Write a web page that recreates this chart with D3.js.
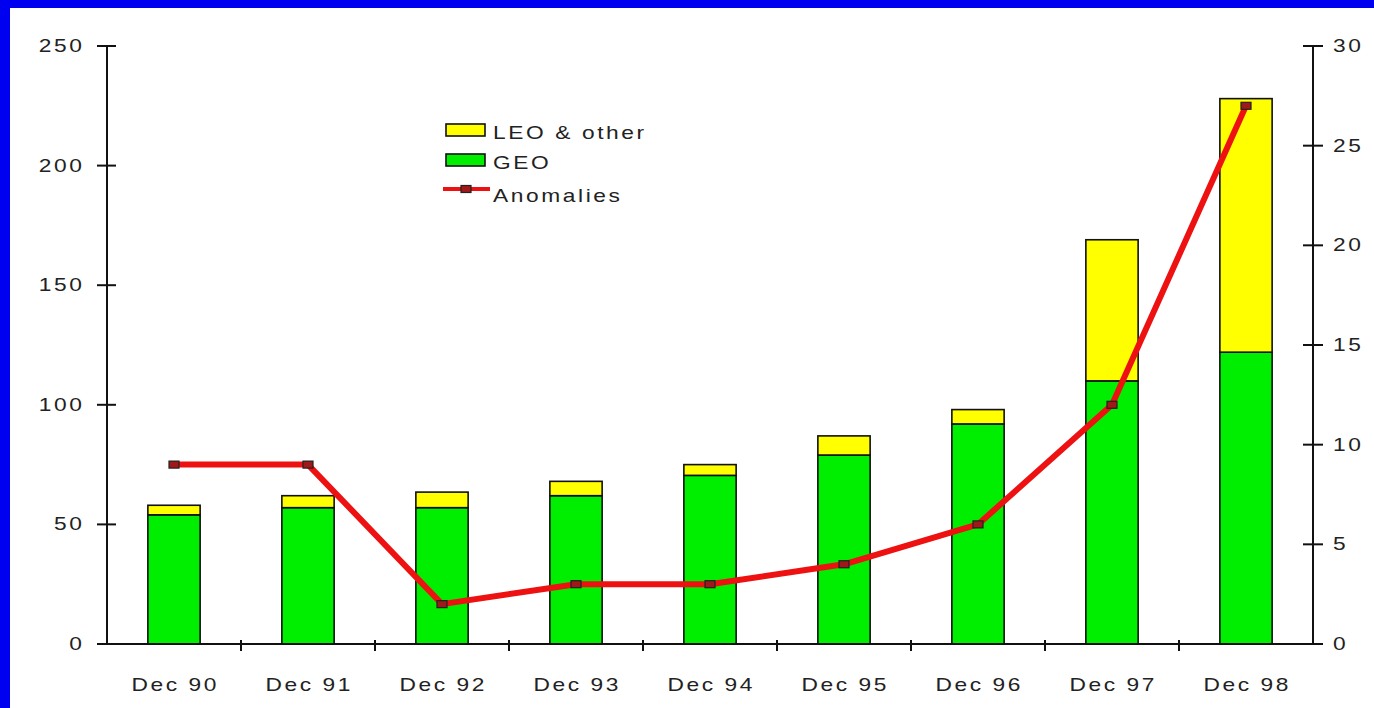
<!DOCTYPE html>
<html>
<head>
<meta charset="utf-8">
<script src="https://cdn.jsdelivr.net/npm/d3@7"></script>
<style>
  html, body { margin: 0; padding: 0; background: #0000f0; }
  svg { display: block; }
  text { font-family: "Liberation Sans", Arial, sans-serif; fill: #222; }
</style>
</head>
<body>
<svg id="chart" width="1374" height="708"></svg>
<script>
// Satellite counts per year (left axis) and anomaly counts (right axis)
const categories = ["Dec 90", "Dec 91", "Dec 92", "Dec 93", "Dec 94", "Dec 95", "Dec 96", "Dec 97", "Dec 98"];
const geo        = [54, 57, 57, 62, 70.5, 79, 92, 110, 122];
const leoOther   = [4, 5, 6.5, 6, 4.5, 8, 6, 59, 106];
const anomalies  = [9, 9, 2, 3, 3, 4, 6, 12, 27];
const leftTicks  = [0, 50, 100, 150, 200, 250];
const rightTicks = [0, 5, 10, 15, 20, 25, 30];
const seriesNames = ["LEO & other", "GEO", "Anomalies"];

const svg = d3.select("#chart");
const W = 1374, H = 708;

// white panel inside the blue frame
svg.append("rect").attr("x", 10).attr("y", 8).attr("width", W - 10).attr("height", H - 8).attr("fill", "#ffffff");

const margin = { left: 107, right: 1313, top: 46, bottom: 644 };
const x = d3.scaleBand().domain(categories).range([margin.left, margin.right]).paddingInner(0.61).paddingOuter(0.305);
const yL = d3.scaleLinear().domain([0, 250]).range([margin.bottom, margin.top]);
const yR = d3.scaleLinear().domain([0, 30]).range([margin.bottom, margin.top]);

const stretch = 1.3, spacing = 2, fontSize = 17.5;
function stretchedText(g, tx, ty, str, anchor) {
  // widened, loosely spaced label text; offset removes the trailing letter gap
  const shift = anchor === "end" ? spacing * stretch : anchor === "middle" ? spacing * stretch / 2 : 0;
  return g.append("g").attr("transform", `translate(${tx + shift},${ty}) scale(${stretch},1)`)
    .append("text").attr("font-size", fontSize).attr("letter-spacing", spacing)
    .attr("text-anchor", anchor).text(str);
}

// stacked bars
const stack = d3.stack().keys(["geo", "leo"])(categories.map((c, i) => ({ cat: c, geo: geo[i], leo: leoOther[i] })));
const colors = { geo: "#00ee00", leo: "#ffff00" };
stack.forEach(layer => {
  svg.append("g").selectAll("rect").data(layer).join("rect")
    .attr("x", d => x(d.data.cat))
    .attr("width", x.bandwidth())
    .attr("y", d => yL(d[1]))
    .attr("height", d => yL(d[0]) - yL(d[1]))
    .attr("fill", colors[layer.key])
    .attr("stroke", "#111").attr("stroke-width", 1.6);
});

// axes
const axisG = svg.append("g").attr("stroke", "#111").attr("stroke-width", 2);
axisG.append("line").attr("x1", margin.left).attr("x2", margin.left).attr("y1", margin.top).attr("y2", margin.bottom);
axisG.append("line").attr("x1", margin.right).attr("x2", margin.right).attr("y1", margin.top).attr("y2", margin.bottom);
axisG.append("line").attr("x1", margin.left - 10).attr("x2", margin.right + 10).attr("y1", margin.bottom).attr("y2", margin.bottom);

// left ticks
leftTicks.forEach(v => {
  axisG.append("line").attr("x1", margin.left - 10).attr("x2", margin.left + 9).attr("y1", yL(v)).attr("y2", yL(v));
  stretchedText(svg, 82, yL(v) + 6, String(v), "end");
});
// right ticks
rightTicks.forEach(v => {
  axisG.append("line").attr("x1", margin.right - 10).attr("x2", margin.right + 10).attr("y1", yR(v)).attr("y2", yR(v));
  stretchedText(svg, 1333, yR(v) + 6, String(v), "start");
});
// category boundary ticks
const step = x.step();
d3.range(1, categories.length).forEach(i => {
  const bx = margin.left + i * step;
  axisG.append("line").attr("x1", bx).attr("x2", bx).attr("y1", margin.bottom - 4).attr("y2", margin.bottom + 7);
});
// category labels
categories.forEach(c => {
  stretchedText(svg, x(c) + x.bandwidth() / 2, 691, c, "middle");
});

// anomalies line
const cx = c => x(c) + x.bandwidth() / 2;
const line = d3.line().x((d, i) => cx(categories[i])).y(d => yR(d));
svg.append("path").datum(anomalies).attr("d", line)
  .attr("fill", "none").attr("stroke", "#ee1111").attr("stroke-width", 6).attr("stroke-linejoin", "round");
svg.append("g").selectAll("rect").data(anomalies).join("rect")
  .attr("x", (d, i) => cx(categories[i]) - 5).attr("y", d => yR(d) - 3.5)
  .attr("width", 10).attr("height", 7)
  .attr("fill", "#a01818").attr("stroke", "#222").attr("stroke-width", 1.2);

// legend
const lg = svg.append("g");
lg.append("rect").attr("x", 446).attr("y", 124).attr("width", 39).attr("height", 12)
  .attr("fill", colors.leo).attr("stroke", "#111").attr("stroke-width", 1.6);
lg.append("rect").attr("x", 446).attr("y", 154).attr("width", 39).attr("height", 12)
  .attr("fill", colors.geo).attr("stroke", "#111").attr("stroke-width", 1.6);
lg.append("line").attr("x1", 443).attr("x2", 490).attr("y1", 189).attr("y2", 189)
  .attr("stroke", "#ee1111").attr("stroke-width", 4);
lg.append("rect").attr("x", 461).attr("y", 185.5).attr("width", 10).attr("height", 7)
  .attr("fill", "#a01818").attr("stroke", "#222").attr("stroke-width", 1.2);
stretchedText(lg, 493, 139, seriesNames[0], "start");
stretchedText(lg, 493, 169, seriesNames[1], "start");
stretchedText(lg, 493, 202, seriesNames[2], "start");
</script>
</body>
</html>
